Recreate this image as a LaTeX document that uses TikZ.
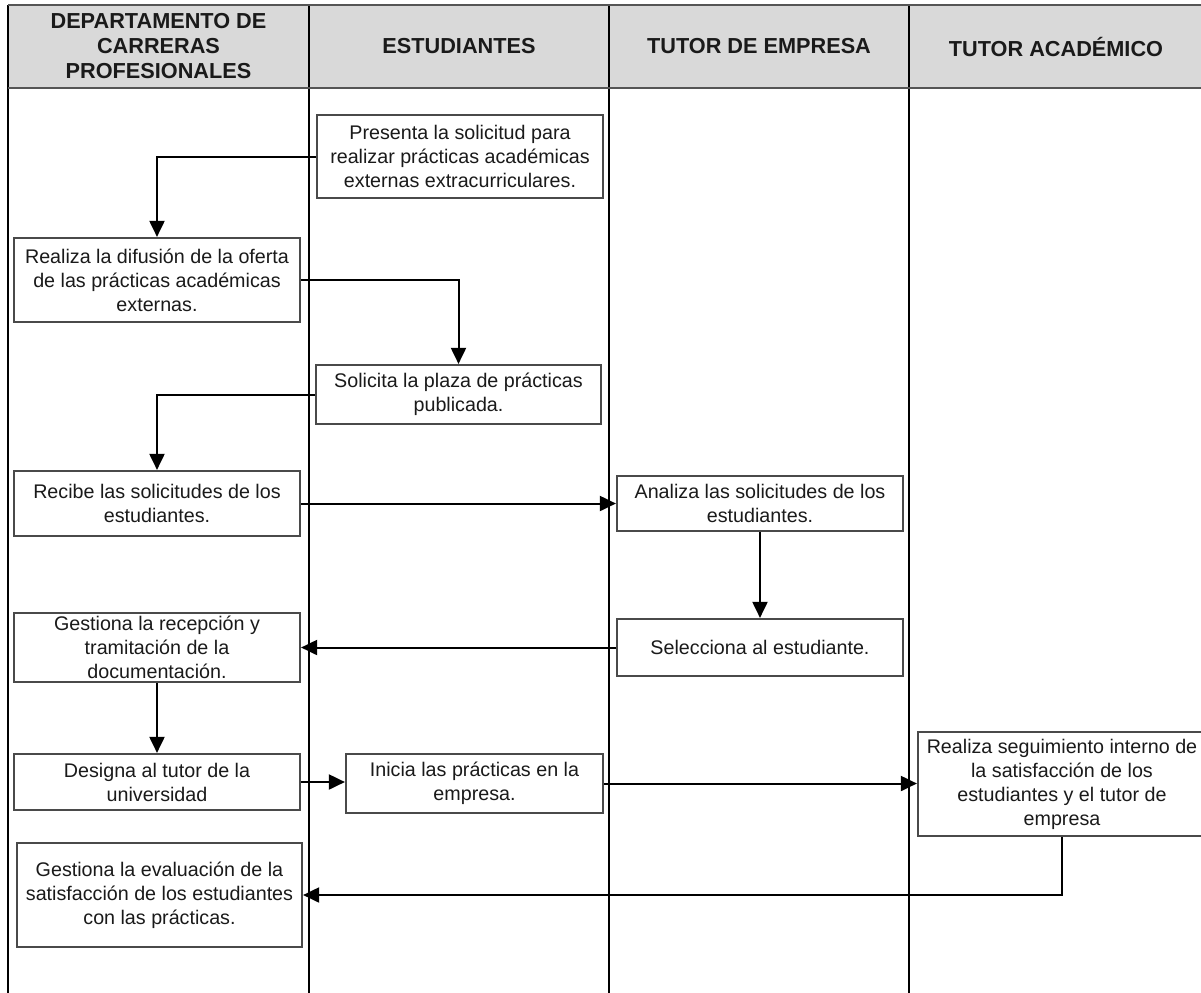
\documentclass[tikz,border=0pt]{standalone}
\usepackage{fontspec}
\setmainfont{Liberation Sans}
\usetikzlibrary{arrows.meta}
\definecolor{hdrfill}{HTML}{D9D9D9}
\definecolor{hdrline}{HTML}{555555}
\definecolor{boxline}{HTML}{4A4A4A}
\definecolor{txt}{HTML}{1A1A1A}
\begin{document}
\begin{tikzpicture}[x=0.5pt,y=-0.5pt,
  box/.style={draw=boxline, line width=1.1pt, fill=white, align=center, inner sep=0pt,
    text=txt, font=\fontsize{9.85}{12}\selectfont},
  hdr/.style={align=center, inner sep=0pt, text=txt, font=\fontsize{10.85}{12.5}\selectfont\bfseries},
  lane/.style={line width=0.8pt, draw=black},
  conn/.style={line width=1pt, draw=black, -{Triangle[length=8pt,width=7.5pt]}}]
\useasboundingbox (0,0) rectangle (1201,992);
\begin{scope}
\clip (0,0) rectangle (1201,992);
% header band
\fill[hdrfill] (8,5) rectangle (1215,88);
% lanes
\draw[lane] (8,5) -- (8,1000);
\draw[lane] (309,5) -- (309,1000);
\draw[lane] (609,5) -- (609,1000);
\draw[lane] (909,5) -- (909,1000);
\draw[hdrline, line width=1.4pt] (8,5) -- (1215,5);
\draw[hdrline, line width=1.4pt] (8,88) -- (1215,88);
% headers
\node[hdr] (h1) at (158.5,46.5) {DEPARTAMENTO DE\\CARRERAS\\PROFESIONALES};
\node[hdr] (h2) at (459,46.5) {ESTUDIANTES};
\node[hdr] (h3) at (759,46.5) {TUTOR DE EMPRESA};
\node[hdr] (h4) at (1056,46.5) {TUTOR ACADÉMICO};
% boxes
\node[box, minimum width=143pt, minimum height=41.5pt] (b1) at (460,156.5)
  {Presenta la solicitud para\\realizar prácticas académicas\\externas extracurriculares.};
\node[box, minimum width=143pt, minimum height=42pt] (b2) at (157,280)
  {Realiza la difusión de la oferta\\de las prácticas académicas\\externas.};
\node[box, minimum width=142.5pt, minimum height=29.5pt] (b3) at (458.5,394.5)
  {Solicita la plaza de prácticas\\publicada.};
\node[box, minimum width=143pt, minimum height=32.5pt] (b4) at (157,503.5)
  {Recibe las solicitudes de los\\estudiantes.};
\node[box, minimum width=143pt, minimum height=27.5pt] (b5) at (760,503.5)
  {Analiza las solicitudes de los\\estudiantes.};
\node[box, minimum width=143pt, minimum height=28.5pt] (b6) at (760,647.5)
  {Selecciona al estudiante.};
\node[box, minimum width=143pt, minimum height=34.5pt] (b7) at (157,647.5)
  {Gestiona la recepción y\\tramitación de la\\documentación.};
\node[box, minimum width=143pt, minimum height=28pt] (b8) at (157,782)
  {Designa al tutor de la\\universidad};
\node[box, minimum width=128.5pt, minimum height=29.5pt] (b9) at (474.5,783.5)
  {Inicia las prácticas en la\\empresa.};
\node[box, minimum width=144pt, minimum height=52pt] (b10) at (1062,784)
  {Realiza seguimiento interno de\\la satisfacción de los\\estudiantes y el tutor de\\empresa};
\node[box, minimum width=142.5pt, minimum height=52pt] (b11) at (159.5,895)
  {Gestiona la evaluación de la\\satisfacción de los estudiantes\\con las prácticas.};
% connectors
\draw[conn] (b1.west) -| (b2.north);
\draw[conn] (b2.east) -| (b3.north);
\draw[conn] (b3.west) -| (b4.north);
\draw[conn] (b4.east) -- (b5.west);
\draw[conn] (b5.south) -- (b6.north);
\draw[conn] (b6.west) -- (b7.east);
\draw[conn] (b7.south) -- (b8.north);
\draw[conn] (b8.east) -- (b8.east -| b9.west);
\draw[conn] (b9.east) -- (b9.east -| b10.west);
\draw[conn] (b10.south) |- (b11.east);
\end{scope}
\end{tikzpicture}
\end{document}
